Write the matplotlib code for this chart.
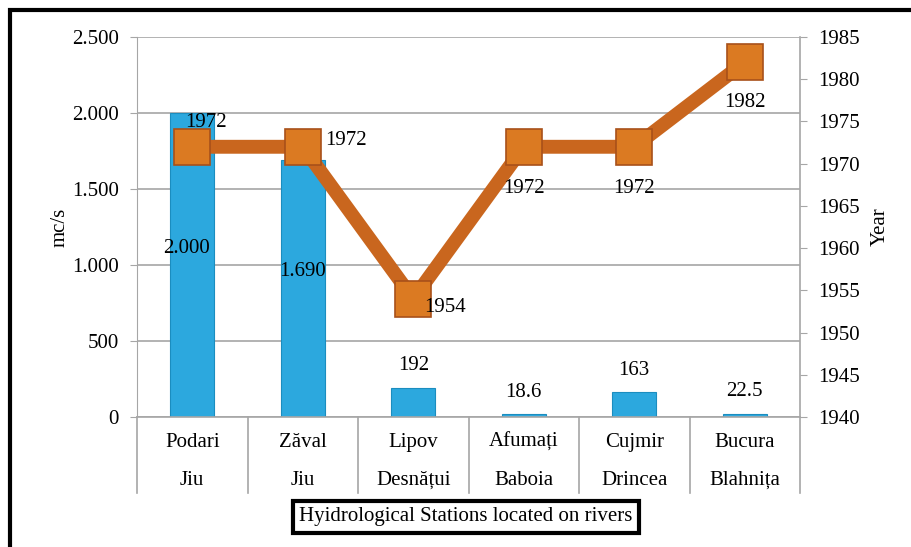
import matplotlib
matplotlib.use('Agg')
import matplotlib.pyplot as plt
from matplotlib.patches import Rectangle
from matplotlib.ticker import FuncFormatter, MultipleLocator

# data
stations = ['Podari', 'Zăval', 'Lipov', 'Afumați', 'Cujmir', 'Bucura']
rivers = ['Jiu', 'Jiu', 'Desnățui', 'Baboia', 'Drincea', 'Blahnița']
flow = [2000, 1690, 192, 18.6, 163, 22.5]
flow_labels = ['2.000', '1.690', '192', '18.6', '163', '22.5']
years = [1972, 1972, 1954, 1972, 1972, 1982]

plt.rcParams['font.family'] = ['Liberation Serif', 'DejaVu Serif']
plt.rcParams['font.size'] = 15

fig = plt.figure(figsize=(9.11, 5.47), dpi=100)
ax = fig.add_axes([137 / 911, 1 - 417 / 547, 663 / 911, 380 / 547])

x = list(range(len(stations)))
ax.bar(x, flow, width=0.4, color='#2CA8DE', edgecolor='#1B8DBF', linewidth=0.8, zorder=2)
ax.set_xlim(-0.5, 5.5)
ax.set_ylim(0, 2500)
ax.yaxis.set_major_locator(MultipleLocator(500))
ax.yaxis.set_major_formatter(FuncFormatter(lambda v, p: f'{int(v):,}'.replace(',', '.')))
ax.grid(axis='y', color='#A6A6A6', linewidth=1.2, zorder=0)
ax.set_axisbelow(True)
ax.set_xticks([])
for s in ['top', 'right', 'bottom']:
    ax.spines[s].set_visible(False)
ax.spines['left'].set_color('#A6A6A6')
ax.tick_params(axis='y', colors='#A6A6A6', labelcolor='black', length=5, pad=8)
ax.set_ylabel('mc/s', labelpad=2)

# bar value labels
inside_y = {0: 1110, 1: 955}
for i, (v, lab) in enumerate(zip(flow, flow_labels)):
    if i in inside_y:
        ax.text(i - 0.05 if i == 0 else i, inside_y[i], lab, ha='center', va='center')
    else:
        ax.text(i, v + 145, lab, ha='center', va='center')

# category labels, two rows, with separators
trans = ax.get_xaxis_transform()
for i in x:
    ax.text(i, -0.066, stations[i], transform=trans, ha='center', va='center')
    ax.text(i, -0.166, rivers[i], transform=trans, ha='center', va='center')
for xs in [-0.5, 0.5, 1.5, 2.5, 3.5, 4.5, 5.5]:
    ax.plot([xs, xs], [0, -0.2], transform=trans, color='#A6A6A6', linewidth=1.2, clip_on=False)
ax.plot([-0.5, 5.5], [0, 0], transform=trans, color='#A6A6A6', linewidth=1.2, clip_on=False)

# year line on secondary axis
ax2 = ax.twinx()
ax2.plot(x, years, color='#C9661E', linewidth=10, marker='s', markersize=26,
         markerfacecolor='#DB7A22', markeredgecolor='#A8501A', markeredgewidth=1.2, zorder=3)
ax2.set_ylim(1940, 1985)
ax2.yaxis.set_major_locator(MultipleLocator(5))
for s in ['top', 'left', 'bottom']:
    ax2.spines[s].set_visible(False)
ax2.spines['right'].set_color('#A6A6A6')
ax2.spines['right'].set_linewidth(1.2)
ax2.tick_params(axis='y', colors='#A6A6A6', labelcolor='black', length=5, pad=8)
ax2.set_ylabel('Year', labelpad=8)

# year labels
year_pos = [(0.12, 1974.9, 'center'), (1.2, 1972.8, 'left'), (2.1, 1953, 'left'),
            (3, 1967.1, 'center'), (4, 1967.1, 'center'), (5, 1977.2, 'center')]
for (xx, yy, ha), yr in zip(year_pos, years):
    ax2.text(xx, yy, str(yr), ha=ha, va='center')

# caption box
fig.text(466 / 911, 1 - 517 / 547, 'Hyidrological Stations located on rivers', ha='center', va='center',
         bbox=dict(boxstyle='square,pad=0.3', facecolor='white', edgecolor='black', linewidth=3))

# outer frame
fig.patches.append(Rectangle((10 / 911, -0.2), 1.2, 1 - 10 / 547 + 0.2, transform=fig.transFigure,
                             fill=False, edgecolor='black', linewidth=3))

fig.savefig('out.png', dpi=100)
